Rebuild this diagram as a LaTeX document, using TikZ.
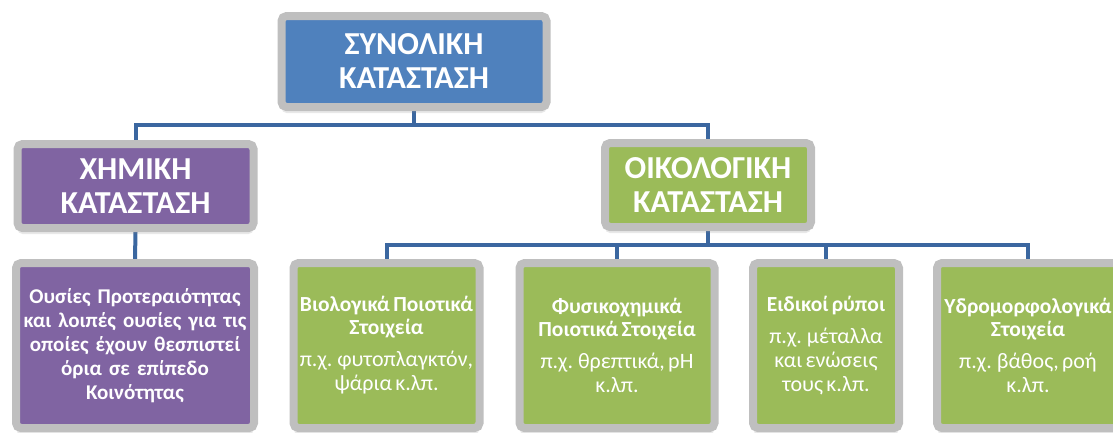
\documentclass[tikz,border=0pt]{standalone}
\usepackage{fontspec}
\setmainfont{Carlito}
\usetikzlibrary{backgrounds,shadows}
\definecolor{topblue}{RGB}{79,129,189}
\definecolor{chempurple}{RGB}{128,100,162}
\definecolor{ecogreen}{RGB}{155,187,89}
\definecolor{framegray}{RGB}{191,191,191}
\definecolor{linkblue}{RGB}{59,103,160}
\def\drawlink{\draw[color=linkblue, line width=4pt]}
\def\keyfont{\bfseries\fontsize{21.5}{23}\selectfont}
\def\egfont{\fontsize{22}{24}\selectfont}

\begin{document}
\begin{tikzpicture}[x=1pt,y=-1pt,
  card/.style={draw=framegray, line width=8pt, rounded corners=5pt, text=white,
    inner sep=0pt, align=center,
    drop shadow={opacity=0.18, shadow xshift=0pt, shadow yshift=-6pt}},
  head/.style={card, font=\bfseries\fontsize{32}{34}\selectfont},
  leaf/.style={card, minimum height=165pt}]
\useasboundingbox (0,0) rectangle (1113,432);
\clip (0,0) rectangle (1113,432);

% -------- upper levels ---------
\node[head, fill=topblue, minimum width=265pt, minimum height=91pt, text width=250pt]
  (total) at (414,61.5) {ΣΥΝΟΛΙΚΗ\\ ΚΑΤΑΣΤΑΣΗ};
\node[head, fill=chempurple, minimum width=236pt, minimum height=84pt, text width=225pt]
  (chem) at (135.5,186) {ΧΗΜΙΚΗ\\ ΚΑΤΑΣΤΑΣΗ};
\node[head, fill=ecogreen, minimum width=206pt, minimum height=84pt, text width=200pt]
  (eco) at (708,185) {ΟΙΚΟΛΟΓΙΚΗ\\ ΚΑΤΑΣΤΑΣΗ};

% -------- leaves ---------
\node[leaf, fill=chempurple, minimum width=238pt, text width=236pt,
  font=\bfseries\fontsize{21}{24}\selectfont] (chemleaf) at (135,345.5)
  {Ουσίες Προτεραιότητας\\ και λοιπές ουσίες για τις\\ οποίες έχουν θεσπιστεί\\ όρια σε επίπεδο\\ Κοινότητας};
\node[leaf, fill=ecogreen, minimum width=186pt, text width=184pt] (bio) at (386.5,345.5)
  {{\keyfont Βιολογικά Ποιοτικά\\ Στοιχεία\par}\vspace{8pt}{\egfont π.χ. φυτοπλαγκτόν,\\ ψάρια κ.λπ.\par}};
\node[leaf, fill=ecogreen, minimum width=195pt, text width=190pt] (phys) at (617,345.5)
  {{\keyfont Φυσικοχημικά\\ Ποιοτικά Στοιχεία\par}\vspace{8pt}{\egfont π.χ. θρεπτικά, pH\\ κ.λπ.\par}};
\node[leaf, fill=ecogreen, minimum width=146pt, text width=144pt] (spec) at (826,345.5)
  {{\keyfont Ειδικοί ρύποι\par}\vspace{8pt}{\egfont π.χ. μέταλλα\\ και ενώσεις\\ τους κ.λπ.\par}};
\node[leaf, fill=ecogreen, minimum width=182pt, text width=176pt] (hydro) at (1028,345.5)
  {{\keyfont \makebox[176pt]{Υδρομορφολογικά}\\ Στοιχεία\par}\vspace{8pt}{\egfont π.χ. βάθος, ροή\\ κ.λπ.\par}};

% connectors sit behind the frames
\begin{pgfonlayer}{background}
\coordinate (bus1) at (total.south |- 0,125);
\coordinate (bus2) at (eco.south |- 0,245);
\drawlink (total.south) -- (bus1);
\drawlink (chem.north) |- (bus1) -| (eco.north);
\drawlink (chem.south) -- (chemleaf.north);
\drawlink (eco.south) -- (bus2);
\drawlink (bio.north) |- (bus2) -| (hydro.north);
\drawlink (phys.north) -- (phys.north |- bus2);
\drawlink (spec.north) -- (spec.north |- bus2);
\end{pgfonlayer}
\end{tikzpicture}
\end{document}
